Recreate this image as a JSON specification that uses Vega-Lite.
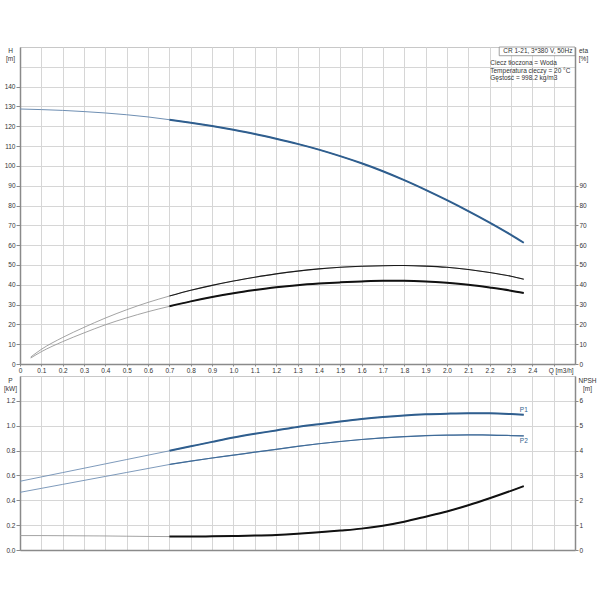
{
  "$schema": "https://vega.github.io/schema/vega-lite/v6.json",
  "description": "CR 1-21 pump curves",
  "padding": {"left": 3, "top": 46, "right": 0, "bottom": 0},
  "spacing": 1,
  "datasets": {
    "head": [
      {"q": 0, "h": 128.7}, {"q": 0.1, "h": 128.4}, {"q": 0.2, "h": 128.0},
      {"q": 0.3, "h": 127.4}, {"q": 0.4, "h": 126.7}, {"q": 0.5, "h": 125.8},
      {"q": 0.6, "h": 124.7}, {"q": 0.7, "h": 123.3}, {"q": 0.8, "h": 121.8},
      {"q": 0.9, "h": 120.1}, {"q": 1.0, "h": 118.2}, {"q": 1.1, "h": 116.1},
      {"q": 1.2, "h": 113.7}, {"q": 1.3, "h": 111.1}, {"q": 1.4, "h": 108.2},
      {"q": 1.5, "h": 104.9}, {"q": 1.6, "h": 101.3}, {"q": 1.7, "h": 97.3},
      {"q": 1.8, "h": 92.8}, {"q": 1.9, "h": 87.9}, {"q": 2.0, "h": 82.7},
      {"q": 2.1, "h": 77.2}, {"q": 2.2, "h": 71.4}, {"q": 2.3, "h": 65.2},
      {"q": 2.36, "h": 61.2}
    ],
    "eta": [
      {"q": 0.05, "eta": 3.5, "curve": "pump"}, {"q": 0.1, "eta": 7.4, "curve": "pump"},
      {"q": 0.2, "eta": 13.4, "curve": "pump"}, {"q": 0.3, "eta": 18.5, "curve": "pump"},
      {"q": 0.4, "eta": 23.2, "curve": "pump"}, {"q": 0.5, "eta": 27.4, "curve": "pump"},
      {"q": 0.6, "eta": 31.1, "curve": "pump"}, {"q": 0.7, "eta": 34.3, "curve": "pump"},
      {"q": 0.8, "eta": 37.2, "curve": "pump"}, {"q": 0.9, "eta": 39.7, "curve": "pump"},
      {"q": 1.0, "eta": 41.9, "curve": "pump"}, {"q": 1.1, "eta": 43.8, "curve": "pump"},
      {"q": 1.2, "eta": 45.5, "curve": "pump"}, {"q": 1.3, "eta": 46.9, "curve": "pump"},
      {"q": 1.4, "eta": 48.0, "curve": "pump"}, {"q": 1.5, "eta": 48.8, "curve": "pump"},
      {"q": 1.6, "eta": 49.3, "curve": "pump"}, {"q": 1.7, "eta": 49.6, "curve": "pump"},
      {"q": 1.8, "eta": 49.7, "curve": "pump"}, {"q": 1.9, "eta": 49.4, "curve": "pump"},
      {"q": 2.0, "eta": 48.8, "curve": "pump"}, {"q": 2.1, "eta": 47.7, "curve": "pump"},
      {"q": 2.2, "eta": 46.2, "curve": "pump"}, {"q": 2.3, "eta": 44.3, "curve": "pump"},
      {"q": 2.36, "eta": 42.8, "curve": "pump"},
      {"q": 0.05, "eta": 3.0, "curve": "total"}, {"q": 0.1, "eta": 6.2, "curve": "total"},
      {"q": 0.2, "eta": 11.3, "curve": "total"}, {"q": 0.3, "eta": 15.7, "curve": "total"},
      {"q": 0.4, "eta": 19.8, "curve": "total"}, {"q": 0.5, "eta": 23.3, "curve": "total"},
      {"q": 0.6, "eta": 26.4, "curve": "total"}, {"q": 0.7, "eta": 29.1, "curve": "total"},
      {"q": 0.8, "eta": 31.6, "curve": "total"}, {"q": 0.9, "eta": 33.8, "curve": "total"},
      {"q": 1.0, "eta": 35.7, "curve": "total"}, {"q": 1.1, "eta": 37.3, "curve": "total"},
      {"q": 1.2, "eta": 38.7, "curve": "total"}, {"q": 1.3, "eta": 39.8, "curve": "total"},
      {"q": 1.4, "eta": 40.6, "curve": "total"}, {"q": 1.5, "eta": 41.2, "curve": "total"},
      {"q": 1.6, "eta": 41.7, "curve": "total"}, {"q": 1.7, "eta": 42.0, "curve": "total"},
      {"q": 1.8, "eta": 42.0, "curve": "total"}, {"q": 1.9, "eta": 41.7, "curve": "total"},
      {"q": 2.0, "eta": 41.0, "curve": "total"}, {"q": 2.1, "eta": 40.0, "curve": "total"},
      {"q": 2.2, "eta": 38.6, "curve": "total"}, {"q": 2.3, "eta": 37.0, "curve": "total"},
      {"q": 2.36, "eta": 35.8, "curve": "total"}
    ],
    "power": [
      {"q": 0, "p": 0.553, "curve": "P1"}, {"q": 0.1, "p": 0.588, "curve": "P1"},
      {"q": 0.2, "p": 0.623, "curve": "P1"}, {"q": 0.3, "p": 0.658, "curve": "P1"},
      {"q": 0.4, "p": 0.693, "curve": "P1"}, {"q": 0.5, "p": 0.728, "curve": "P1"},
      {"q": 0.6, "p": 0.763, "curve": "P1"}, {"q": 0.7, "p": 0.798, "curve": "P1"},
      {"q": 0.8, "p": 0.834, "curve": "P1"}, {"q": 0.9, "p": 0.870, "curve": "P1"},
      {"q": 1.0, "p": 0.905, "curve": "P1"}, {"q": 1.1, "p": 0.935, "curve": "P1"},
      {"q": 1.2, "p": 0.962, "curve": "P1"}, {"q": 1.3, "p": 0.990, "curve": "P1"},
      {"q": 1.4, "p": 1.012, "curve": "P1"}, {"q": 1.5, "p": 1.034, "curve": "P1"},
      {"q": 1.6, "p": 1.054, "curve": "P1"}, {"q": 1.7, "p": 1.070, "curve": "P1"},
      {"q": 1.8, "p": 1.083, "curve": "P1"}, {"q": 1.9, "p": 1.092, "curve": "P1"},
      {"q": 2.0, "p": 1.097, "curve": "P1"}, {"q": 2.1, "p": 1.100, "curve": "P1"},
      {"q": 2.2, "p": 1.100, "curve": "P1"}, {"q": 2.3, "p": 1.094, "curve": "P1"},
      {"q": 2.36, "p": 1.088, "curve": "P1"},
      {"q": 0, "p": 0.464, "curve": "P2"}, {"q": 0.1, "p": 0.496, "curve": "P2"},
      {"q": 0.2, "p": 0.528, "curve": "P2"}, {"q": 0.3, "p": 0.560, "curve": "P2"},
      {"q": 0.4, "p": 0.592, "curve": "P2"}, {"q": 0.5, "p": 0.624, "curve": "P2"},
      {"q": 0.6, "p": 0.656, "curve": "P2"}, {"q": 0.7, "p": 0.688, "curve": "P2"},
      {"q": 0.8, "p": 0.715, "curve": "P2"}, {"q": 0.9, "p": 0.740, "curve": "P2"},
      {"q": 1.0, "p": 0.763, "curve": "P2"}, {"q": 1.1, "p": 0.787, "curve": "P2"},
      {"q": 1.2, "p": 0.810, "curve": "P2"}, {"q": 1.3, "p": 0.834, "curve": "P2"},
      {"q": 1.4, "p": 0.855, "curve": "P2"}, {"q": 1.5, "p": 0.873, "curve": "P2"},
      {"q": 1.6, "p": 0.889, "curve": "P2"}, {"q": 1.7, "p": 0.902, "curve": "P2"},
      {"q": 1.8, "p": 0.912, "curve": "P2"}, {"q": 1.9, "p": 0.920, "curve": "P2"},
      {"q": 2.0, "p": 0.924, "curve": "P2"}, {"q": 2.1, "p": 0.926, "curve": "P2"},
      {"q": 2.2, "p": 0.925, "curve": "P2"}, {"q": 2.3, "p": 0.921, "curve": "P2"},
      {"q": 2.36, "p": 0.918, "curve": "P2"}
    ],
    "npsh": [
      {"q": 0, "npsh": 0.58}, {"q": 0.1, "npsh": 0.58}, {"q": 0.2, "npsh": 0.575},
      {"q": 0.3, "npsh": 0.57}, {"q": 0.4, "npsh": 0.565}, {"q": 0.5, "npsh": 0.555},
      {"q": 0.6, "npsh": 0.545}, {"q": 0.7, "npsh": 0.54}, {"q": 0.8, "npsh": 0.545},
      {"q": 0.9, "npsh": 0.55}, {"q": 1.0, "npsh": 0.565}, {"q": 1.1, "npsh": 0.58},
      {"q": 1.2, "npsh": 0.605}, {"q": 1.3, "npsh": 0.65}, {"q": 1.4, "npsh": 0.71},
      {"q": 1.5, "npsh": 0.78}, {"q": 1.6, "npsh": 0.86}, {"q": 1.7, "npsh": 0.98},
      {"q": 1.8, "npsh": 1.14}, {"q": 1.9, "npsh": 1.34}, {"q": 2.0, "npsh": 1.55},
      {"q": 2.1, "npsh": 1.80}, {"q": 2.2, "npsh": 2.08}, {"q": 2.3, "npsh": 2.38},
      {"q": 2.36, "npsh": 2.57}
    ]
  },
  "vconcat": [
    {
      "width": 555,
      "height": 317,
      "layer": [
        {
          "layer": [
            {
              "data": {"name": "head"},
              "mark": {"type": "line", "interpolate": "monotone", "color": "#6f8fb3", "strokeWidth": 1},
              "encoding": {
                "x": {
                  "field": "q", "type": "quantitative",
                  "scale": {"domain": [0, 2.6], "nice": false, "zero": false},
                  "axis": {
                    "title": null,
                    "values": [0, 0.1, 0.2, 0.3, 0.4, 0.5, 0.6, 0.7, 0.8, 0.9, 1.0, 1.1, 1.2, 1.3, 1.4, 1.5, 1.6, 1.7, 1.8, 1.9, 2.0, 2.1, 2.2, 2.3, 2.4, 2.5],
                    "tickCount": 100,
                    "labelExpr": "datum.value == 0 ? '0' : datum.value > 2.45 ? 'Q [m3/h]' : format(datum.value, '.1f')",
                    "labelOffset": {"condition": {"test": "datum.value > 2.45", "value": 7}, "value": 0},
                    "labelFlush": false,
                    "labelOverlap": false,
                    "tickSize": 2,
                    "labelPadding": 1,
                    "grid": true
                  }
                },
                "y": {
                  "field": "h", "type": "quantitative",
                  "scale": {"domain": [0, 160], "nice": false},
                  "axis": {
                    "values": [0, 10, 20, 30, 40, 50, 60, 70, 80, 90, 100, 110, 120, 130, 140, 150],
                    "tickCount": 100,
                    "format": "d",
                    "labelOverlap": false,
                    "labelExpr": "datum.value > 145 ? '' : datum.label",
                    "tickOpacity": {"condition": {"test": "datum.value > 145", "value": 0}, "value": 1},
                    "title": ["H", "[m]"],
                    "titleAngle": 0,
                    "titleAlign": "center",
                    "titleBaseline": "top",
                    "titleX": -10,
                    "titleY": 0,
                    "titleLineHeight": 8,
                    "tickSize": 4,
                    "labelPadding": 1,
                    "grid": true
                  }
                }
              }
            },
            {
              "data": {"name": "head"},
              "transform": [{"filter": "datum.q >= 0.7"}],
              "mark": {"type": "line", "interpolate": "monotone", "color": "#2f5e8e", "strokeWidth": 2},
              "encoding": {
                "x": {"field": "q", "type": "quantitative"},
                "y": {"field": "h", "type": "quantitative"}
              }
            },
            {
              "data": {"values": [{}]},
              "mark": {"type": "rect", "fill": "white", "stroke": "#8a8a8a", "strokeWidth": 0.8},
              "encoding": {
                "x": {"datum": 2.245},
                "x2": {"datum": 2.6},
                "y": {"datum": 155.6},
                "y2": {"datum": 160}
              }
            },
            {
              "data": {"values": [{}]},
              "mark": {"type": "text", "align": "right", "baseline": "middle", "fontSize": 6.5, "color": "#333", "text": "CR 1-21, 3*380 V, 50Hz"},
              "encoding": {
                "x": {"datum": 2.588},
                "y": {"datum": 157.9}
              }
            },
            {
              "data": {"values": [{}]},
              "mark": {
                "type": "text", "align": "left", "baseline": "top", "fontSize": 6.5, "lineHeight": 7.2, "color": "#333",
                "text": ["Ciecz tłoczona = Woda", "Temperatura cieczy = 20 °C", "Gęstość = 998.2 kg/m3"]
              },
              "encoding": {
                "x": {"datum": 2.203},
                "y": {"datum": 153.2}
              }
            }
          ]
        },
        {
          "layer": [
            {
              "data": {"name": "eta"},
              "mark": {"type": "line", "interpolate": "monotone", "color": "#8c8c8c", "strokeWidth": 0.8},
              "encoding": {
                "x": {"field": "q", "type": "quantitative"},
                "y": {
                  "field": "eta", "type": "quantitative",
                  "scale": {"domain": [0, 160], "nice": false},
                  "axis": {
                    "orient": "right",
                    "values": [0, 10, 20, 30, 40, 50, 60, 70, 80, 90],
                    "tickCount": 100,
                    "format": "d",
                    "labelOverlap": false,
                    "grid": false,
                    "title": ["eta", "[%]"],
                    "titleAngle": 0,
                    "titleAlign": "center",
                    "titleBaseline": "top",
                    "titleX": 8,
                    "titleY": 0,
                    "titleLineHeight": 8,
                    "tickSize": 3,
                    "labelPadding": 1
                  }
                },
                "detail": {"field": "curve"}
              }
            },
            {
              "data": {"name": "eta"},
              "transform": [{"filter": "datum.q >= 0.7 && datum.curve == 'pump'"}],
              "mark": {"type": "line", "interpolate": "monotone", "color": "#1a1a1a", "strokeWidth": 1.1},
              "encoding": {
                "x": {"field": "q", "type": "quantitative"},
                "y": {"field": "eta", "type": "quantitative"}
              }
            },
            {
              "data": {"name": "eta"},
              "transform": [{"filter": "datum.q >= 0.7 && datum.curve == 'total'"}],
              "mark": {"type": "line", "interpolate": "monotone", "color": "#111111", "strokeWidth": 2},
              "encoding": {
                "x": {"field": "q", "type": "quantitative"},
                "y": {"field": "eta", "type": "quantitative"}
              }
            }
          ]
        }
      ],
      "resolve": {"scale": {"y": "independent"}}
    },
    {
      "width": 555,
      "height": 174,
      "layer": [
        {
          "layer": [
            {
              "data": {"name": "power"},
              "mark": {"type": "line", "interpolate": "monotone", "color": "#6f8fb3", "strokeWidth": 0.9},
              "encoding": {
                "x": {
                  "field": "q", "type": "quantitative",
                  "scale": {"domain": [0, 2.6], "nice": false, "zero": false},
                  "axis": {
                    "title": null,
                    "values": [0, 0.1, 0.2, 0.3, 0.4, 0.5, 0.6, 0.7, 0.8, 0.9, 1.0, 1.1, 1.2, 1.3, 1.4, 1.5, 1.6, 1.7, 1.8, 1.9, 2.0, 2.1, 2.2, 2.3, 2.4, 2.5],
                    "tickCount": 100,
                    "labels": false,
                    "ticks": false,
                    "grid": true
                  }
                },
                "y": {
                  "field": "p", "type": "quantitative",
                  "scale": {"domain": [0, 1.4], "nice": false},
                  "axis": {
                    "values": [0, 0.2, 0.4, 0.6, 0.8, 1.0, 1.2],
                    "tickCount": 100,
                    "labelOverlap": false,
                    "format": ".1f",
                    "title": ["P", "[kW]"],
                    "titleAngle": 0,
                    "titleAlign": "center",
                    "titleBaseline": "top",
                    "titleX": -10,
                    "titleY": 1,
                    "titleLineHeight": 8,
                    "tickSize": 4,
                    "labelPadding": 1,
                    "grid": true
                  }
                },
                "detail": {"field": "curve"}
              }
            },
            {
              "data": {"name": "power"},
              "transform": [{"filter": "datum.q >= 0.7 && datum.curve == 'P1'"}],
              "mark": {"type": "line", "interpolate": "monotone", "color": "#2f5e8e", "strokeWidth": 2},
              "encoding": {
                "x": {"field": "q", "type": "quantitative"},
                "y": {"field": "p", "type": "quantitative"}
              }
            },
            {
              "data": {"name": "power"},
              "transform": [{"filter": "datum.q >= 0.7 && datum.curve == 'P2'"}],
              "mark": {"type": "line", "interpolate": "monotone", "color": "#3f6b98", "strokeWidth": 1.2},
              "encoding": {
                "x": {"field": "q", "type": "quantitative"},
                "y": {"field": "p", "type": "quantitative"}
              }
            },
            {
              "data": {"values": [{}]},
              "mark": {"type": "text", "align": "center", "baseline": "middle", "fontSize": 6.5, "color": "#2f5e8e", "text": "P1"},
              "encoding": {"x": {"datum": 2.36}, "y": {"datum": 1.124}}
            },
            {
              "data": {"values": [{}]},
              "mark": {"type": "text", "align": "center", "baseline": "middle", "fontSize": 6.5, "color": "#2f5e8e", "text": "P2"},
              "encoding": {"x": {"datum": 2.36}, "y": {"datum": 0.881}}
            }
          ]
        },
        {
          "layer": [
            {
              "data": {"name": "npsh"},
              "mark": {"type": "line", "interpolate": "monotone", "color": "#999999", "strokeWidth": 0.9},
              "encoding": {
                "x": {"field": "q", "type": "quantitative"},
                "y": {
                  "field": "npsh", "type": "quantitative",
                  "scale": {"domain": [0, 7], "nice": false},
                  "axis": {
                    "orient": "right",
                    "values": [0, 1, 2, 3, 4, 5, 6],
                    "tickCount": 100,
                    "format": "d",
                    "labelOverlap": false,
                    "grid": false,
                    "title": ["NPSH", "[m]"],
                    "titleAngle": 0,
                    "titleAlign": "center",
                    "titleBaseline": "top",
                    "titleX": 12,
                    "titleY": 1,
                    "titleLineHeight": 8,
                    "tickSize": 3,
                    "labelPadding": 1
                  }
                }
              }
            },
            {
              "data": {"name": "npsh"},
              "transform": [{"filter": "datum.q >= 0.7"}],
              "mark": {"type": "line", "interpolate": "monotone", "color": "#111111", "strokeWidth": 2},
              "encoding": {
                "x": {"field": "q", "type": "quantitative"},
                "y": {"field": "npsh", "type": "quantitative"}
              }
            }
          ]
        }
      ],
      "resolve": {"scale": {"y": "independent"}}
    }
  ],
  "config": {
    "font": "Liberation Sans",
    "view": {"stroke": "#c8c8c8"},
    "axis": {
      "labelFont": "Liberation Sans",
      "titleFont": "Liberation Sans",
      "labelFontSize": 6.5,
      "titleFontSize": 6.5,
      "titleFontWeight": "normal",
      "labelColor": "#333333",
      "titleColor": "#333333",
      "gridColor": "#d6d6d6",
      "domainColor": "#8a8a8a",
      "domainWidth": 1.5,
      "tickColor": "#8a8a8a"
    },
    "text": {"font": "Liberation Sans"}
  }
}
